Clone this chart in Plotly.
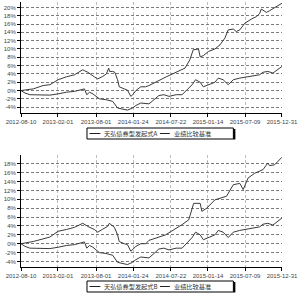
import plotly.graph_objects as go

# ---------------- data ----------------
fund_a_dates = ["2012-08-10", "2012-10-07", "2012-11-23", "2012-12-25", "2013-02-02",
                "2013-03-13", "2013-04-21", "2013-05-30", "2013-06-06", "2013-06-23",
                "2013-07-24", "2013-08-09", "2013-09-02", "2013-09-19", "2013-09-30",
                "2013-10-04", "2013-10-19", "2013-10-29", "2013-11-11", "2013-11-19",
                "2013-12-13", "2013-12-28", "2014-01-13", "2014-01-22", "2014-02-06",
                "2014-03-01", "2014-03-23", "2014-04-09", "2014-06-30", "2014-09-27",
                "2014-10-20", "2014-11-05", "2014-11-30", "2014-12-08", "2014-12-23",
                "2015-01-16", "2015-02-16", "2015-03-12", "2015-04-04", "2015-04-20",
                "2015-05-14", "2015-05-29", "2015-06-14", "2015-07-08", "2015-08-08",
                "2015-09-01", "2015-09-16", "2015-09-24", "2015-10-18", "2015-11-02",
                "2015-12-31"]
fund_a_values = [0.0, 0.4, 1.2, 1.4, 2.6,
                 3.3, 3.8, 5.0, 4.8, 4.4,
                 3.3, 2.8, 3.4, 4.0, 5.4,
                 4.6, 4.6, 4.4, 2.6, 0.9,
                 0.4, 0.1, -1.4, -1.0, 0.0,
                 0.9, 0.9, 1.2, 3.3, 5.4,
                 7.4, 9.8, 10.0, 8.1, 8.4,
                 9.4, 10.0, 11.0, 12.6, 14.6,
                 14.8, 14.2, 14.6, 16.2, 17.2,
                 17.8, 18.5, 19.6, 18.8, 19.2,
                 21.0]

fund_b_dates = ["2012-08-10", "2012-10-07", "2012-12-25", "2013-02-02", "2013-03-13",
                "2013-04-21", "2013-05-30", "2013-06-23", "2013-07-24", "2013-08-09",
                "2013-09-02", "2013-09-25", "2013-10-03", "2013-10-27", "2013-11-11",
                "2013-11-19", "2013-12-13", "2013-12-28", "2014-01-13", "2014-02-06",
                "2014-03-01", "2014-03-25", "2014-04-09", "2014-06-27", "2014-09-13",
                "2014-10-15", "2014-11-07", "2014-12-08", "2014-12-16", "2015-01-08",
                "2015-02-16", "2015-03-20", "2015-04-12", "2015-05-14", "2015-06-14",
                "2015-06-30", "2015-07-23", "2015-08-24", "2015-10-02", "2015-10-25",
                "2015-11-02", "2015-11-26", "2015-12-31"]
fund_b_values = [0.0, 0.5, 1.5, 2.8, 3.2,
                 3.7, 4.6, 3.9, 3.2, 2.6,
                 3.3, 3.9, 4.6, 3.7, 2.0,
                 0.5, 0.0, -0.2, -1.7, -0.6,
                 0.0, 0.0, 0.75, 2.0, 4.3,
                 5.4, 9.1, 9.1, 7.3, 8.0,
                 9.9, 10.3, 10.7, 13.3, 13.6,
                 12.2, 14.8, 15.9, 16.7, 18.2,
                 17.6, 17.8, 19.5]

bench_dates = ["2012-08-10", "2012-08-29", "2012-09-21", "2012-11-07", "2012-12-25",
               "2013-02-02", "2013-03-13", "2013-04-21", "2013-05-23", "2013-06-07",
               "2013-06-18", "2013-07-01", "2013-07-17", "2013-08-01", "2013-08-17",
               "2013-09-17", "2013-10-19", "2013-11-11", "2013-12-05", "2013-12-28",
               "2014-01-21", "2014-02-06", "2014-03-01", "2014-03-25", "2014-04-09",
               "2014-05-03", "2014-05-26", "2014-06-19", "2014-07-13", "2014-08-16",
               "2014-09-13", "2014-10-07", "2014-10-31", "2014-11-16", "2014-12-08",
               "2014-12-23", "2015-01-16", "2015-02-16", "2015-03-04", "2015-03-27",
               "2015-04-20", "2015-05-14", "2015-06-14", "2015-07-16", "2015-08-16",
               "2015-09-16", "2015-10-02", "2015-10-25", "2015-11-18", "2015-12-31"]
bench_values = [0.0, -0.6, -1.0, -1.0, -1.1,
                -0.8, -0.4, -0.2, 0.2, 0.4,
                -1.0, -0.4, -0.8, -1.4, -2.0,
                -2.2, -2.6, -4.2, -4.4, -4.7,
                -4.2, -3.6, -3.0, -3.2, -3.2,
                -2.2, -1.2, -1.0, -1.4, -1.0,
                -1.0, 0.2, 1.4, 2.6, 2.0,
                0.9, 1.4, 2.0, 3.0, 2.6,
                1.4, 2.6, 3.0, 3.3, 3.6,
                3.8, 4.4, 4.6, 4.2, 5.8]

series_names_top = ["天弘债券型发起式A", "业绩比较基准"]
series_names_bottom = ["天弘债券型发起式B", "业绩比较基准"]

x_ticks = ["2012-08-10", "2013-02-01", "2013-08-01", "2014-01-24",
           "2014-07-22", "2015-01-14", "2015-07-09", "2015-12-31"]
y_ticks_top = [-4, -2, 0, 2, 4, 6, 8, 10, 12, 14, 16, 18, 20]
y_ticks_bottom = [-4, -2, 0, 2, 4, 6, 8, 10, 12, 14, 16, 18]

# ---------------- figure ----------------
W, H = 300, 297
ML, MR, MT, MB = 21, 16, 2, 30
PW, PH = W - ML - MR, H - MT - MB


def px_x(px):
    return (px - ML) / PW


def px_y(py):
    return (H - MB - py) / PH


LINE = "#3a3a3a"
fig = go.Figure()

fig.add_trace(go.Scatter(x=fund_a_dates, y=fund_a_values, mode="lines",
                         line=dict(color=LINE, width=1), name=series_names_top[0],
                         xaxis="x", yaxis="y"))
fig.add_trace(go.Scatter(x=bench_dates, y=bench_values, mode="lines",
                         line=dict(color=LINE, width=1), name=series_names_top[1],
                         xaxis="x", yaxis="y"))
fig.add_trace(go.Scatter(x=fund_b_dates, y=fund_b_values, mode="lines",
                         line=dict(color=LINE, width=1), name=series_names_bottom[0],
                         xaxis="x2", yaxis="y2"))
fig.add_trace(go.Scatter(x=bench_dates, y=bench_values, mode="lines",
                         line=dict(color=LINE, width=1), name=series_names_bottom[1],
                         xaxis="x2", yaxis="y2"))

tickfont = dict(family="Liberation Sans, Arial, sans-serif", size=6, color="#444")

xcommon = dict(type="date", range=[x_ticks[0], x_ticks[-1] + " 03:00"],
               tickvals=x_ticks, ticktext=x_ticks, tickfont=tickfont,
               showline=True, linecolor="#000", linewidth=1,
               ticks="outside", ticklen=3, tickcolor="#000",
               showgrid=True, gridcolor="#bdbdbd", gridwidth=1, griddash="3px,2px",
               zeroline=False, fixedrange=True)
ycommon = dict(tickfont=tickfont, showline=True, linecolor="#000", linewidth=1,
               ticks="outside", ticklen=3, tickcolor="#000",
               showgrid=True, gridcolor="#7a7a7a", gridwidth=1, griddash="3px,2px",
               zeroline=False, fixedrange=True)

fig.update_layout(
    width=W, height=H,
    margin=dict(l=ML, r=MR, t=MT, b=MB, pad=0),
    paper_bgcolor="#ffffff", plot_bgcolor="#ffffff",
    showlegend=False,
    xaxis=dict(domain=[0, 1], anchor="y", **xcommon),
    yaxis=dict(domain=[px_y(113), 1.0], anchor="x", range=[-5.4, 21.3],
               tickvals=y_ticks_top, ticktext=[f"{v}%" for v in y_ticks_top], **ycommon),
    xaxis2=dict(domain=[0, 1], anchor="y2", **xcommon),
    yaxis2=dict(domain=[0.0, px_y(155)], anchor="x2", range=[-5.25, 20.0],
                tickvals=y_ticks_bottom, ticktext=[f"{v}%" for v in y_ticks_bottom], **ycommon),
)

# ---------------- manual legends ----------------
legfont = dict(family="Noto Sans CJK SC", size=6.2, color="#333")
shapes = []
annotations = []


def add_legend(top, bottom, names):
    shapes.append(dict(type="rect", xref="paper", yref="paper",
                       x0=px_x(87.5), x1=px_x(235), y0=px_y(bottom), y1=px_y(top),
                       line=dict(color="#000", width=1), fillcolor="#fff"))
    shapes.append(dict(type="line", xref="paper", yref="paper",
                       x0=px_x(236), x1=px_x(236), y0=px_y(bottom + 0.5), y1=px_y(top + 1),
                       line=dict(color="#000", width=2)))
    mid = (top + bottom) / 2
    for lx0, lx1, tx, name in [(90, 101, 103, names[0]), (161, 171, 173.5, names[1])]:
        shapes.append(dict(type="line", xref="paper", yref="paper",
                           x0=px_x(lx0), x1=px_x(lx1), y0=px_y(mid), y1=px_y(mid),
                           line=dict(color="#222", width=1)))
        annotations.append(dict(text=name, xref="paper", yref="paper",
                                x=px_x(tx), y=px_y(mid), xanchor="left", yanchor="middle",
                                showarrow=False, font=legfont))


add_legend(128, 139, series_names_top)
add_legend(281, 292, series_names_bottom)

fig.update_layout(shapes=shapes, annotations=annotations)

fig.write_html("out.html")
